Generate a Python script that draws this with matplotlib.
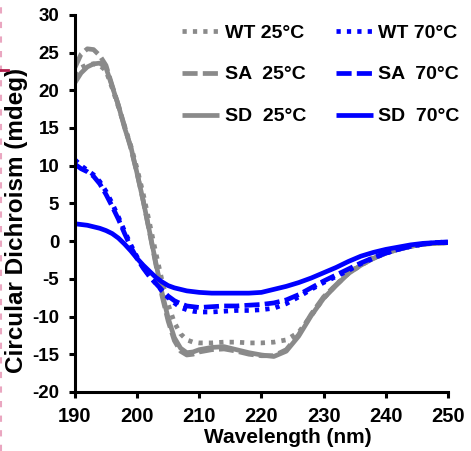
import matplotlib
matplotlib.use("Agg")
import matplotlib.pyplot as plt
from matplotlib.lines import Line2D

plt.rcParams['font.family'] = ['Liberation Sans', 'DejaVu Sans']
plt.rcParams['font.weight'] = 'bold'
plt.rcParams['axes.unicode_minus'] = False

# Wavelength grid (nm)
wavelength = [190, 191, 192, 193, 194, 195, 196, 197, 198, 199, 200,
              201, 202, 203, 204, 205, 206, 207, 208, 209, 210,
              212, 214, 216, 218, 220, 222, 224, 226, 228, 230,
              232, 234, 236, 238, 240, 242, 244, 246, 248, 250]

# CD signal (mdeg)
wt_25 = [22.0, 23.0, 23.4, 23.5, 23.3, 22.6, 20.3, 17.8, 15.2, 12.6, 9.6,
         6.2, 2.4, -1.5, -5.2, -8.4, -10.8, -12.3, -13.1, -13.4, -13.5,
         -13.5, -13.4, -13.4, -13.5, -13.5, -13.4, -13.1, -12.1, -9.9, -7.6,
         -5.8, -4.3, -3.2, -2.3, -1.6, -1.1, -0.7, -0.4, -0.3, -0.2]
sa_25 = [23.0, 24.8, 25.5, 25.4, 24.6, 23.3, 20.6, 18.0, 15.2, 12.3, 9.0,
         5.3, 1.2, -3.0, -7.2, -10.6, -13.2, -14.6, -15.1, -15.0, -14.7,
         -14.4, -14.3, -14.6, -15.0, -15.2, -15.2, -14.4, -12.4, -9.7, -7.4,
         -5.8, -4.2, -3.1, -2.2, -1.5, -1.0, -0.7, -0.4, -0.3, -0.2]
sd_25 = [21.0, 22.3, 23.1, 23.5, 23.6, 23.0, 20.5, 18.0, 15.0, 12.5, 9.0,
         5.3, 1.3, -2.8, -6.8, -10.2, -12.8, -14.2, -14.8, -14.7, -14.4,
         -14.1, -14.0, -14.4, -14.8, -15.1, -15.3, -14.6, -12.6, -9.9, -7.6,
         -5.9, -4.3, -3.2, -2.3, -1.6, -1.1, -0.7, -0.4, -0.3, -0.2]
wt_70 = [10.8, 10.0, 9.4, 8.8, 7.9, 6.6, 5.0, 3.2, 1.3, -0.5, -2.1,
         -3.5, -4.6, -5.6, -6.6, -7.5, -8.2, -8.8, -9.1, -9.3, -9.4,
         -9.4, -9.3, -9.2, -9.2, -9.1, -8.9, -8.3, -7.4, -6.4, -5.5,
         -4.7, -3.9, -3.0, -2.3, -1.6, -1.1, -0.7, -0.4, -0.2, -0.1]
sa_70 = [10.2, 9.6, 9.2, 8.6, 7.6, 6.2, 4.6, 2.9, 1.0, -0.8, -2.3,
         -3.6, -4.7, -5.6, -6.5, -7.3, -7.9, -8.3, -8.6, -8.7, -8.8,
         -8.7, -8.6, -8.6, -8.5, -8.4, -8.2, -7.8, -7.1, -6.2, -5.3,
         -4.5, -3.7, -2.9, -2.2, -1.6, -1.1, -0.7, -0.4, -0.2, -0.1]
sd_70 = [2.3, 2.2, 2.1, 1.9, 1.7, 1.4, 1.0, 0.4, -0.4, -1.3, -2.3,
         -3.2, -4.0, -4.8, -5.4, -5.9, -6.2, -6.4, -6.6, -6.7, -6.8,
         -6.9, -6.9, -6.9, -6.9, -6.8, -6.4, -6.0, -5.5, -4.9, -4.2,
         -3.5, -2.7, -2.0, -1.5, -1.1, -0.8, -0.5, -0.3, -0.2, -0.2]

labels = ["WT 25\u00b0C", "SA  25\u00b0C", "SD  25\u00b0C",
          "WT 70\u00b0C", "SA  70\u00b0C", "SD  70\u00b0C"]
x_ticks = [190, 200, 210, 220, 230, 240, 250]
y_ticks = [-20, -15, -10, -5, 0, 5, 10, 15, 20, 25, 30]

GRAY = "#8a8a8a"
BLUE = "#0000ff"
dotted = (0, (0.9, 1.3))
dashed = (0, (3.2, 1.1))

fig = plt.figure(figsize=(4.71, 4.51), dpi=100)
ax = fig.add_axes([0.159, 0.131, 0.792, 0.836])

series = [
    (wt_25, GRAY, dotted),
    (sa_25, GRAY, dashed),
    (sd_25, GRAY, '-'),
    (wt_70, BLUE, dotted),
    (sa_70, BLUE, dashed),
    (sd_70, BLUE, '-'),
]
for (vals, col, ls), lab in zip(series, labels):
    ax.plot(wavelength, vals, color=col, linestyle=ls, linewidth=3.4,
            label=lab, solid_capstyle='butt', dash_capstyle='butt')

ax.set_xlim(190, 250)
ax.set_ylim(-20, 30)
ax.set_xticks(x_ticks)
ax.set_yticks(y_ticks)
ax.tick_params(axis='both', direction='out', length=4.3, width=2.2)
ax.tick_params(axis='y', pad=7, labelsize=13.5)
ax.tick_params(axis='x', pad=6.5, labelsize=14.5)
for lab in ax.get_xticklabels() + ax.get_yticklabels():
    lab.set_fontweight('bold')
for side in ('top', 'right'):
    ax.spines[side].set_visible(False)
for side in ('left', 'bottom'):
    ax.spines[side].set_linewidth(2.2)

ax.set_xlabel("Wavelength (nm)", fontsize=15, fontweight='bold')
ax.xaxis.set_label_coords(0.571, -0.095)
ax.set_ylabel("Circular Dichroism (mdeg)", fontsize=17.5, fontweight='bold')
ax.yaxis.set_label_coords(-0.125, 0.455)

leg = ax.legend(ncol=2, loc='upper left', bbox_to_anchor=(0.387, 0.947),
                bbox_transform=fig.transFigure, frameon=False,
                prop={'family': 'Liberation Sans', 'weight': 'bold', 'size': 14},
                handlelength=1.9, handletextpad=0.3, columnspacing=1.5,
                labelspacing=1.25, borderpad=0, borderaxespad=0)

# stray marks at the left edge
fig.add_artist(Line2D([0.003, 0.003], [0.0, 1.0], transform=fig.transFigure,
                      color="#eaa6c0", linewidth=1.5, linestyle=(0, (3, 4))))
fig.add_artist(Line2D([0.0, 0.016], [1 - 70 / 451, 1 - 70 / 451],
                      transform=fig.transFigure, color="#b3214f", linewidth=2))

fig.savefig("out.png", dpi=100)
